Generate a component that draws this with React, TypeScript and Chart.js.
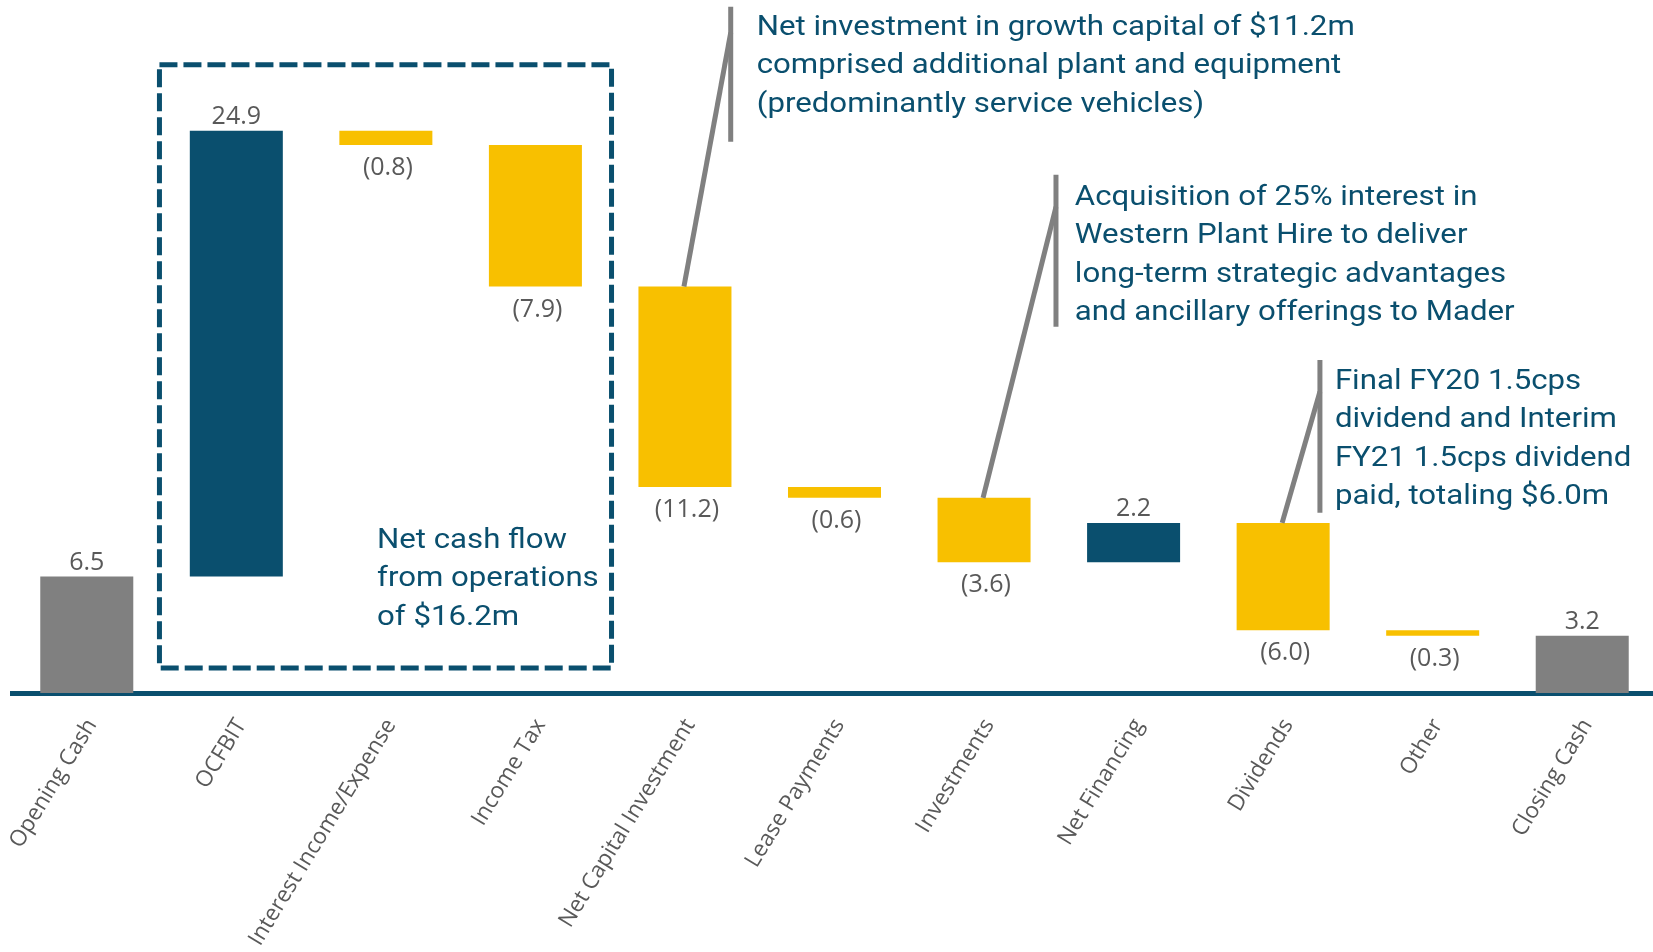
import React, { useEffect, useRef } from "react";
import { Chart, registerables } from "chart.js";

Chart.register(...registerables);

// ---------- data ----------
const categories = [
  "Opening Cash",
  "OCFBIT",
  "Interest Income/Expense",
  "Income Tax",
  "Net Capital Investment",
  "Lease Payments",
  "Investments",
  "Net Financing",
  "Dividends",
  "Other",
  "Closing Cash",
];
const values = [6.5, 24.9, -0.8, -7.9, -11.2, -0.6, -3.6, 2.2, -6.0, -0.3, 3.2];
const isTotal = [true, false, false, false, false, false, false, false, false, false, true];

const note1Lines = [
  "Net investment in growth capital of $11.2m",
  "comprised additional plant and equipment",
  "(predominantly service vehicles)",
];
const note2Lines = [
  "Acquisition of 25% interest in",
  "Western Plant Hire to deliver",
  "long-term strategic advantages",
  "and ancillary offerings to Mader",
];
const note3Lines = [
  "Final FY20 1.5cps",
  "dividend and Interim",
  "FY21 1.5cps dividend",
  "paid, totaling $6.0m",
];
const boxLines = ["Net cash flow", "from operations", "of $16.2m"];

// ---------- styles ----------
const NAVY = "#0a4f6e";
const YELLOW = "#f8c000";
const GREY = "#808080";
const LABEL = "#595959";
const NOTE_FONT = "28px Roboto";
const NOTE_LINE_H = 38.5;

// waterfall ranges derived from values
const ranges: [number, number][] = (() => {
  let run = 0;
  return values.map((v, i) => {
    if (isTotal[i]) {
      run = v;
      return [0, v] as [number, number];
    }
    const s = run;
    run += v;
    return [Math.min(s, run), Math.max(s, run)] as [number, number];
  });
})();
const colors = values.map((v, i) => (isTotal[i] ? GREY : v >= 0 ? NAVY : YELLOW));

// annotation anchors in (category index, value) space
const notes = [
  { lines: note1Lines, target: 4, textX: 4.48, textY: 36.76, barX: 4.306, barTop: 38.32, barBot: 30.78, joinY: 36.87 },
  { lines: note2Lines, target: 6, textX: 6.607, textY: 27.26, barX: 6.481, barTop: 28.94, barBot: 20.45, joinY: 27.15 },
  { lines: note3Lines, target: 8, textX: 8.346, textY: 16.98, barX: 8.246, barTop: 18.6, barBot: 10.06, joinY: 16.82 },
];
const box = { x0: 0.486, x1: 3.509, yTop: 35.08, yBot: 1.4, textX: 1.941, textY: 8.1 };

const overlayPlugin = {
  id: "overlay",
  afterDatasetsDraw(chart: any) {
    const { ctx, scales } = chart;
    const xs = scales.x;
    const ys = scales.y;
    const meta = chart.getDatasetMeta(0);

    // value labels
    ctx.save();
    ctx.font = "25px 'Open Sans'";
    ctx.fillStyle = LABEL;
    ctx.textAlign = "center";
    ctx.textBaseline = "alphabetic";
    meta.data.forEach((bar: any, i: number) => {
      const v = values[i];
      const r = ranges[i];
      const x = bar.x;
      if (v >= 0) {
        ctx.fillText(v.toFixed(1), x, ys.getPixelForValue(r[1]) - 7);
      } else {
        ctx.fillText("(" + Math.abs(v).toFixed(1) + ")", x + 2, ys.getPixelForValue(r[0]) + 30);
      }
    });
    ctx.restore();

    // condensed note text scale
    ctx.save();
    ctx.font = NOTE_FONT;
    const sx = 598 / ctx.measureText(note1Lines[0]).width;
    ctx.restore();

    const drawLines = (lines: string[], xPix: number, yPix: number) => {
      ctx.save();
      ctx.font = NOTE_FONT;
      ctx.fillStyle = NAVY;
      ctx.textAlign = "left";
      ctx.textBaseline = "alphabetic";
      ctx.translate(xPix, yPix);
      ctx.scale(sx, 1);
      lines.forEach((t, k) => ctx.fillText(t, 0, k * NOTE_LINE_H));
      ctx.restore();
    };

    // leader lines + notes
    notes.forEach((n) => {
      const bx = xs.getPixelForValue(n.barX);
      const bar = meta.data[n.target];
      const topVal = ranges[n.target][1];
      ctx.save();
      ctx.strokeStyle = GREY;
      ctx.lineWidth = 5;
      ctx.lineCap = "butt";
      ctx.beginPath();
      ctx.moveTo(bx, ys.getPixelForValue(n.barTop));
      ctx.lineTo(bx, ys.getPixelForValue(n.barBot));
      ctx.stroke();
      ctx.beginPath();
      ctx.moveTo(bx, ys.getPixelForValue(n.joinY));
      ctx.lineTo(bar.x - 1, ys.getPixelForValue(topVal));
      ctx.stroke();
      ctx.restore();
      drawLines(n.lines, xs.getPixelForValue(n.textX), ys.getPixelForValue(n.textY));
    });

    // dashed box
    ctx.save();
    ctx.strokeStyle = NAVY;
    ctx.lineWidth = 5;
    ctx.setLineDash([18, 6]);
    const bx0 = xs.getPixelForValue(box.x0);
    const bx1 = xs.getPixelForValue(box.x1);
    const by0 = ys.getPixelForValue(box.yTop);
    const by1 = ys.getPixelForValue(box.yBot);
    ctx.strokeRect(bx0, by0, bx1 - bx0, by1 - by0);
    ctx.restore();
    drawLines(boxLines, xs.getPixelForValue(box.textX), ys.getPixelForValue(box.textY));
  },
};

export default function App() {
  const ref = useRef<HTMLCanvasElement>(null);
  useEffect(() => {
    if (!ref.current) return;
    const chart = new Chart(ref.current, {
      type: "bar",
      data: {
        labels: categories,
        datasets: [
          {
            data: ranges as any,
            backgroundColor: colors,
            borderWidth: 0,
            barPercentage: 0.622,
            categoryPercentage: 1,
          },
        ],
      },
      options: {
        animation: false,
        responsive: true,
        maintainAspectRatio: false,
        layout: { padding: { left: 12, right: 1, top: 0, bottom: 0 } },
        plugins: { legend: { display: false }, tooltip: { enabled: false }, title: { display: false } },
        scales: {
          x: {
            grid: { display: false },
            border: { display: true, color: NAVY, width: 5 },
            ticks: {
              autoSkip: false,
              maxRotation: 58.5,
              minRotation: 58.5,
              color: LABEL,
              padding: 13,
              labelOffset: 5,
              font: { family: "'Open Sans'", size: 22.5 },
            },
            afterFit(scale: any) {
              scale.height = 259;
              scale.paddingLeft = 0;
              scale.paddingRight = 0;
            },
          },
          y: { display: false, min: 0, max: 38.7 },
        },
      },
      plugins: [overlayPlugin],
    });
    return () => chart.destroy();
  }, []);
  return (
    <div style={{ position: "absolute", left: 0, top: 0, width: 1653, height: 952, overflow: "hidden", background: "#fff" }}>
      <div style={{ position: "relative", width: 1658, height: 952 }}>
        <canvas ref={ref} />
      </div>
    </div>
  );
}
